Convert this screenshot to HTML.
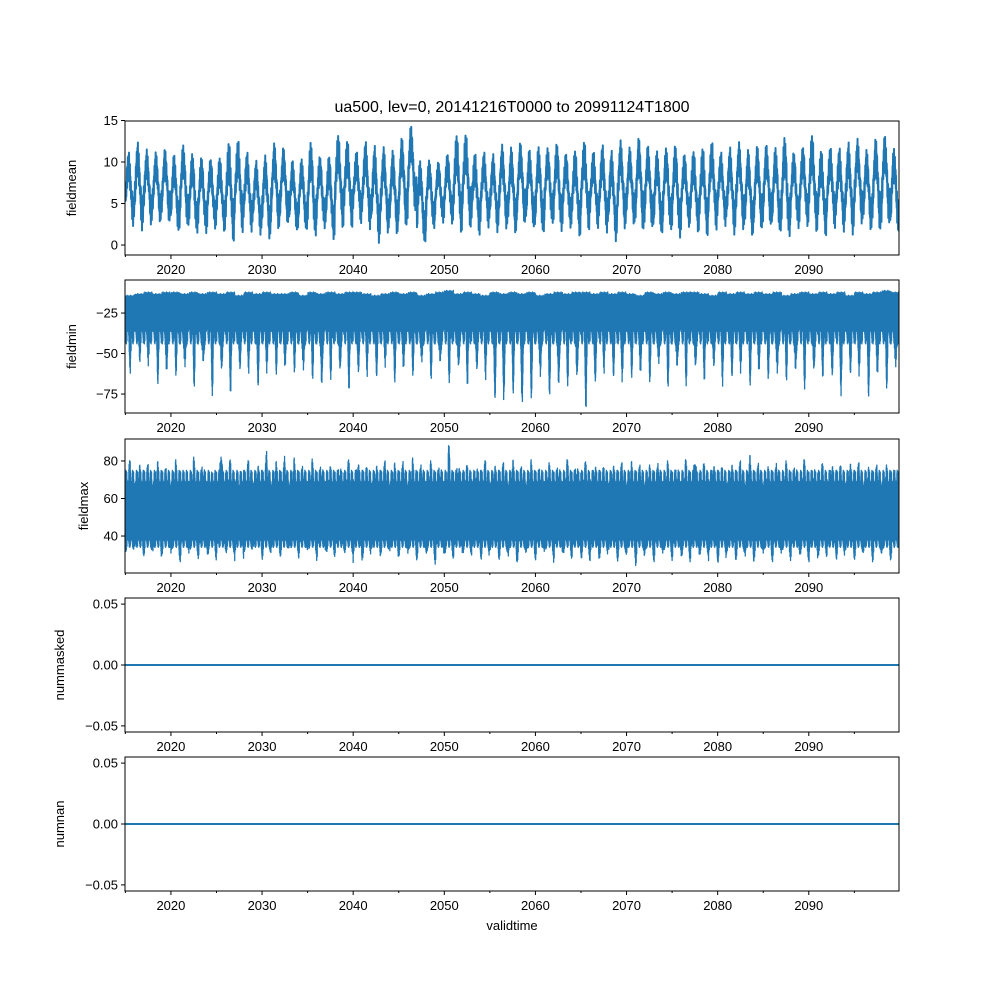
<!DOCTYPE html>
<html><head><meta charset="utf-8">
<style>
body{margin:0;background:#fff;}
svg text{font-family:"Liberation Sans","DejaVu Sans",sans-serif;fill:#000;}
</style></head>
<body>
<svg id="fig" width="1000" height="1000" viewBox="0 0 1000 1000" xmlns="http://www.w3.org/2000/svg">
<rect width="1000" height="1000" fill="#fff"/>
<text x="512" y="112" font-size="16" text-anchor="middle">ua500, lev=0, 20141216T0000 to 20991124T1800</text>
<g id="plots"></g>
<text x="512" y="930" font-size="13" text-anchor="middle">validtime</text>
</svg>
<script>
// ---- data (yearly envelopes, 2015..2099) ----
const years = [];
for (let y = 2015; y <= 2099; y++) years.push(y);
const meanHi = [11.3,12.4,11.5,11.2,11.6,11.0,12.2,11.2,10.8,10.6,10.8,12.7,12.9,11.3,10.2,10.8,12.3,11.8,10.3,10.5,12.6,10.9,11.0,13.6,12.9,11.5,12.6,12.0,11.8,11.4,13.0,14.5,10.3,10.4,10.2,11.2,13.6,13.7,11.3,11.3,11.0,12.1,11.8,12.4,11.6,12.0,11.9,12.5,11.3,11.7,12.8,11.5,12.2,11.4,12.6,11.8,13.0,12.1,11.5,11.9,12.3,11.2,11.6,12.0,12.7,11.3,11.8,12.4,11.5,12.0,12.2,11.9,13.2,11.4,12.1,13.6,11.7,12.0,11.8,12.4,12.8,11.5,12.9,13.3,11.8];
const meanLo = [2.3,1.7,2.3,2.5,2.4,1.2,1.8,1.1,1.2,1.8,1.5,0.3,1.5,1.6,1.2,0.6,1.6,2.2,1.3,1.4,0.7,1.8,0.5,1.9,2.0,2.6,1.9,0.2,1.3,1.0,1.8,3.5,-0.2,1.7,2.5,2.4,1.3,2.0,1.2,2.1,1.5,1.8,1.1,2.2,1.6,1.0,2.3,1.4,1.9,0.9,1.7,2.0,1.5,0.4,1.8,2.2,1.3,1.6,0.9,1.5,0.6,2.0,1.4,1.0,1.8,2.3,1.2,1.7,0.8,1.5,1.9,1.1,0.6,1.8,2.1,1.4,1.0,2.0,1.6,1.2,2.4,1.5,1.3,2.0,1.0];
const minTop = [-12,-11,-10,-11,-10,-10,-11,-10,-11,-10,-11,-10,-12,-10,-11,-10,-11,-11,-10,-12,-10,-11,-10,-11,-10,-10,-11,-12,-11,-10,-11,-10,-12,-11,-10,-9,-11,-10,-11,-12,-10,-11,-10,-11,-10,-12,-11,-10,-11,-10,-10,-11,-10,-11,-10,-11,-12,-10,-11,-10,-11,-10,-10,-11,-12,-10,-11,-10,-11,-10,-11,-10,-12,-11,-10,-11,-10,-11,-10,-12,-10,-11,-10,-9,-10];
const minLo = [-58,-52,-55,-64,-62,-58,-60,-65,-58,-70,-62,-70,-60,-58,-68,-60,-58,-59,-56,-62,-60,-72,-60,-62,-68,-62,-60,-62,-56,-63,-60,-58,-57,-60,-58,-62,-60,-65,-60,-62,-76,-78,-70,-83,-72,-66,-70,-72,-64,-66,-80,-68,-58,-62,-66,-60,-63,-62,-58,-65,-61,-64,-60,-62,-58,-66,-62,-60,-65,-62,-60,-64,-61,-63,-66,-62,-60,-64,-72,-60,-62,-72,-64,-66,-60];
const maxHi = [80,79,78,80,76,80,74,81,79,73,89,80,72,80,78,85,80,83,81,78,80,79,76,78,80,82,76,78,80,79,80,81,79,79,78,88,80,77,76,80,78,79,81,77,80,76,78,78,80,79,79,79,76,78,79,80,78,77,80,79,76,80,85,78,80,76,79,80,84,79,76,80,79,78,80,76,78,80,77,80,79,76,78,77,75];
const maxLo = [34,33,32,31,33,30,29,32,31,29,33,32,29,34,33,30,33,32,34,31,33,30,31,33,32,28,30,32,33,31,32,30,31,29,28,30,31,32,32,29,31,30,28,29,31,30,32,29,30,31,28,29,30,31,29,30,27,30,29,31,30,28,30,31,29,27,30,30,28,31,30,29,31,30,29,28,30,32,29,31,30,31,29,30,31];
const xTicks = [2020,2030,2040,2050,2060,2070,2080,2090];

// ---- layout ----
const X0=125, X1=899, T0=2014.96, T1=2099.9;
const xs = t => X0 + (t-T0)/(T1-T0)*(X1-X0);
const panels = [
  {name:'fieldmean', top:121, bot:255, lo:-1.2, hi:14.94, ticks:[0,5,10,15], fmt:v=>String(v), lab:76},
  {name:'fieldmin', top:280, bot:413, lo:-86.7, hi:-4.6, ticks:[-75,-50,-25], fmt:v=>'\u2212'+Math.abs(v), lab:76},
  {name:'fieldmax', top:439, bot:573, lo:20.3, hi:91.7, ticks:[40,60,80], fmt:v=>String(v), lab:88},
  {name:'nummasked', top:598, bot:732, lo:-0.055, hi:0.055, ticks:[-0.05,0,0.05], fmt:v=>(v<0?'\u2212':'')+Math.abs(v).toFixed(2), lab:64},
  {name:'numnan', top:757, bot:891, lo:-0.055, hi:0.055, ticks:[-0.05,0,0.05], fmt:v=>(v<0?'\u2212':'')+Math.abs(v).toFixed(2), lab:64}
];
const NS='http://www.w3.org/2000/svg';
const root=document.getElementById('plots');
function mk(tag, attrs, parent){const e=document.createElementNS(NS,tag);for(const k in attrs)e.setAttribute(k,attrs[k]);(parent||root).appendChild(e);return e;}
const wig=[0,0.7,-0.4,1,-0.9,0.3,-0.6,0.9,-1,0.5,-0.2,0.8,-0.7];

function seriesPoints(i){
  const pts=[];
  years.forEach((y,j)=>{
    if(i===0){
      const hi=meanHi[j], lo=meanLo[j], mid=(hi+lo)/2, amp=(hi-lo)/2;
      const N=40;
      for(let k=0;k<N;k++){
        const c=Math.cos(2*Math.PI*(k/N-0.35));
        const w=wig[(k+j)%wig.length];
        let v=mid+0.6*amp*c+0.4*amp*w*(0.6+0.4*Math.abs(c));
        v=Math.max(lo,Math.min(hi,v));
        pts.push([y+k/N, v]);
      }
    } else if(i===1){
      const N=70;
      for(let k=0;k<N;k++){
        const c=Math.max(0,Math.cos(2*Math.PI*(k/N-0.55)));
        const w=wig[(k+j)%wig.length];
        const v = k%2 ? minTop[j]-2-2*Math.abs(w)
                      : -38 + 6*w + (minLo[j]+38)*Math.pow(c,4);
        pts.push([y+k/N, v]);
      }
    } else if(i===2){
      const N=70;
      for(let k=0;k<N;k++){
        const c=Math.cos(2*Math.PI*(k/N-0.5));
        const w=wig[(k+j)%wig.length];
        const v = k%2 ? 70 + 5*w + (maxHi[j]-74)*Math.pow(Math.max(0,c),4)
                      : 37 + 3*w + (maxLo[j]-37)*Math.pow(Math.max(0,-c),3);
        pts.push([y+k/N, v]);
      }
    }
  });
  return pts;
}

panels.forEach((p,i)=>{
  const ys=v=>p.bot-(v-p.lo)/(p.hi-p.lo)*(p.bot-p.top);
  const g=mk('g',{});
  
  
  const clip=mk('clipPath',{id:'c'+i},g);
  mk('rect',{x:X0,y:p.top,width:X1-X0,height:p.bot-p.top},clip);
  let d='';
  if(i<3){
    const pts=seriesPoints(i);
    d=pts.map((q,k)=>(k?'L':'M')+xs(q[0]).toFixed(2)+' '+ys(q[1]).toFixed(2)).join('');
  } else {
    d='M'+xs(T0)+' '+ys(0)+'L'+xs(T1)+' '+ys(0);
  }
  const line=mk('path',{d:d,fill:'none',stroke:'#1f77b4','stroke-width':i===0?2:(i<3?1.3:2),'stroke-linejoin':'round','clip-path':'url(#c'+i+')'},g);
  
  
  const fr=mk('rect',{x:X0,y:p.top,width:X1-X0,height:p.bot-p.top,fill:'none',stroke:'#000','stroke-width':1},g);
  
  
  p.ticks.forEach(v=>{
    const y=ys(v);
    mk('line',{x1:X0-4,x2:X0,y1:y,y2:y,stroke:'#000'},g);
    const t=mk('text',{x:X0-7,y:y+4.5,'font-size':13,'text-anchor':'end'},g);
    t.textContent=p.fmt(v);
    
    
  });
  for(let yr=2015;yr<=2095;yr+=5){
    const x=xs(yr), major=yr%10===0;
    mk('line',{x1:x,x2:x,y1:p.bot,y2:p.bot+(major?4:2),stroke:'#000'},g);
  }
  xTicks.forEach(yr=>{
    const t=mk('text',{x:xs(yr),y:p.bot+19,'font-size':13,'text-anchor':'middle'},g);
    t.textContent=yr;
    
    
  });
  const yl=mk('text',{x:0,y:0,'font-size':13,'text-anchor':'middle',transform:'translate('+p.lab+','+((p.top+p.bot)/2)+') rotate(-90)'},g);
  yl.textContent=p.name;
  
  
});
</script>
</body></html>
